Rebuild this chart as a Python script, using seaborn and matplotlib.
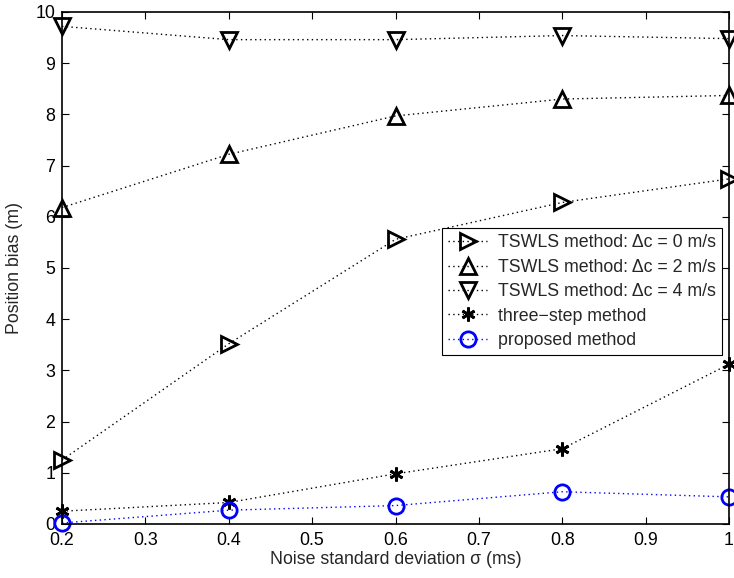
import pandas as pd
import matplotlib
matplotlib.use("Agg")
import matplotlib.pyplot as plt
import seaborn as sns

sigma = [0.2, 0.4, 0.6, 0.8, 1.0]
tswls_0 = [1.25, 3.52, 5.56, 6.28, 6.74]
tswls_2 = [6.18, 7.22, 7.97, 8.30, 8.37]
tswls_4 = [9.72, 9.46, 9.46, 9.54, 9.48]
three_step = [0.25, 0.42, 0.98, 1.47, 3.12]
proposed = [0.02, 0.27, 0.36, 0.63, 0.53]

labels = [
    "TSWLS method: \u0394c = 0 m/s",
    "TSWLS method: \u0394c = 2 m/s",
    "TSWLS method: \u0394c = 4 m/s",
    "three\u2212step method",
    "proposed method",
]
series = [tswls_0, tswls_2, tswls_4, three_step, proposed]
markers = [">", "^", "v", (6, 2, 0), "o"]
colors = ["black", "black", "black", "black", "blue"]
msizes = [12, 12, 12, 10, 11]

sns.set_style("ticks")
plt.rcParams["font.family"] = ["Liberation Sans", "DejaVu Sans"]
FS = 12.8

fig = plt.figure(figsize=(7.34, 5.78), dpi=100)
ax = fig.add_axes([62 / 734, 54 / 578, 667 / 734, 512 / 578])

for lab, ys, m, c, ms in zip(labels, series, markers, colors, msizes):
    df = pd.DataFrame({"sigma": sigma, "bias": ys})
    sns.lineplot(data=df, x="sigma", y="bias", ax=ax, color=c,
                 linewidth=1.0, dashes=False, marker=m, markersize=ms,
                 markerfacecolor="none", markeredgecolor=c, markeredgewidth=2,
                 label=lab, clip_on=False)
for ln in ax.get_lines():
    ln.set_linestyle((0, (1, 2.4)))

ax.set_xlim(0.2, 1.0)
ax.set_ylim(0, 10)
ax.set_xticks([0.2, 0.3, 0.4, 0.5, 0.6, 0.7, 0.8, 0.9, 1.0])
ax.set_xticklabels(["0.2", "0.3", "0.4", "0.5", "0.6", "0.7", "0.8", "0.9", "1"])
ax.set_yticks(range(0, 11))
ax.tick_params(direction="in", top=True, right=True, length=5, width=0.8,
               labelsize=FS, colors="black")
ax.tick_params(axis="x", pad=6)
ax.tick_params(axis="y", pad=5)
for s in ax.spines.values():
    s.set_visible(True)
    s.set_linewidth(1.2)
    s.set_color("black")

ax.set_xlabel("Noise standard deviation \u03c3 (ms)", fontsize=FS, labelpad=1)
ax.set_ylabel("Position bias (m)", fontsize=FS, labelpad=9)

leg = ax.legend(loc="upper right", bbox_to_anchor=(0.99, 0.578), fontsize=FS,
                frameon=True, fancybox=False, framealpha=1, edgecolor="black",
                borderpad=0.35, labelspacing=0.42, handlelength=2.2, handletextpad=0.6,
                borderaxespad=0)
leg.get_frame().set_linewidth(0.8)
for h in leg.get_lines():
    h.set_linestyle((0, (1, 2.4)))

fig.savefig("out.png", dpi=100)
